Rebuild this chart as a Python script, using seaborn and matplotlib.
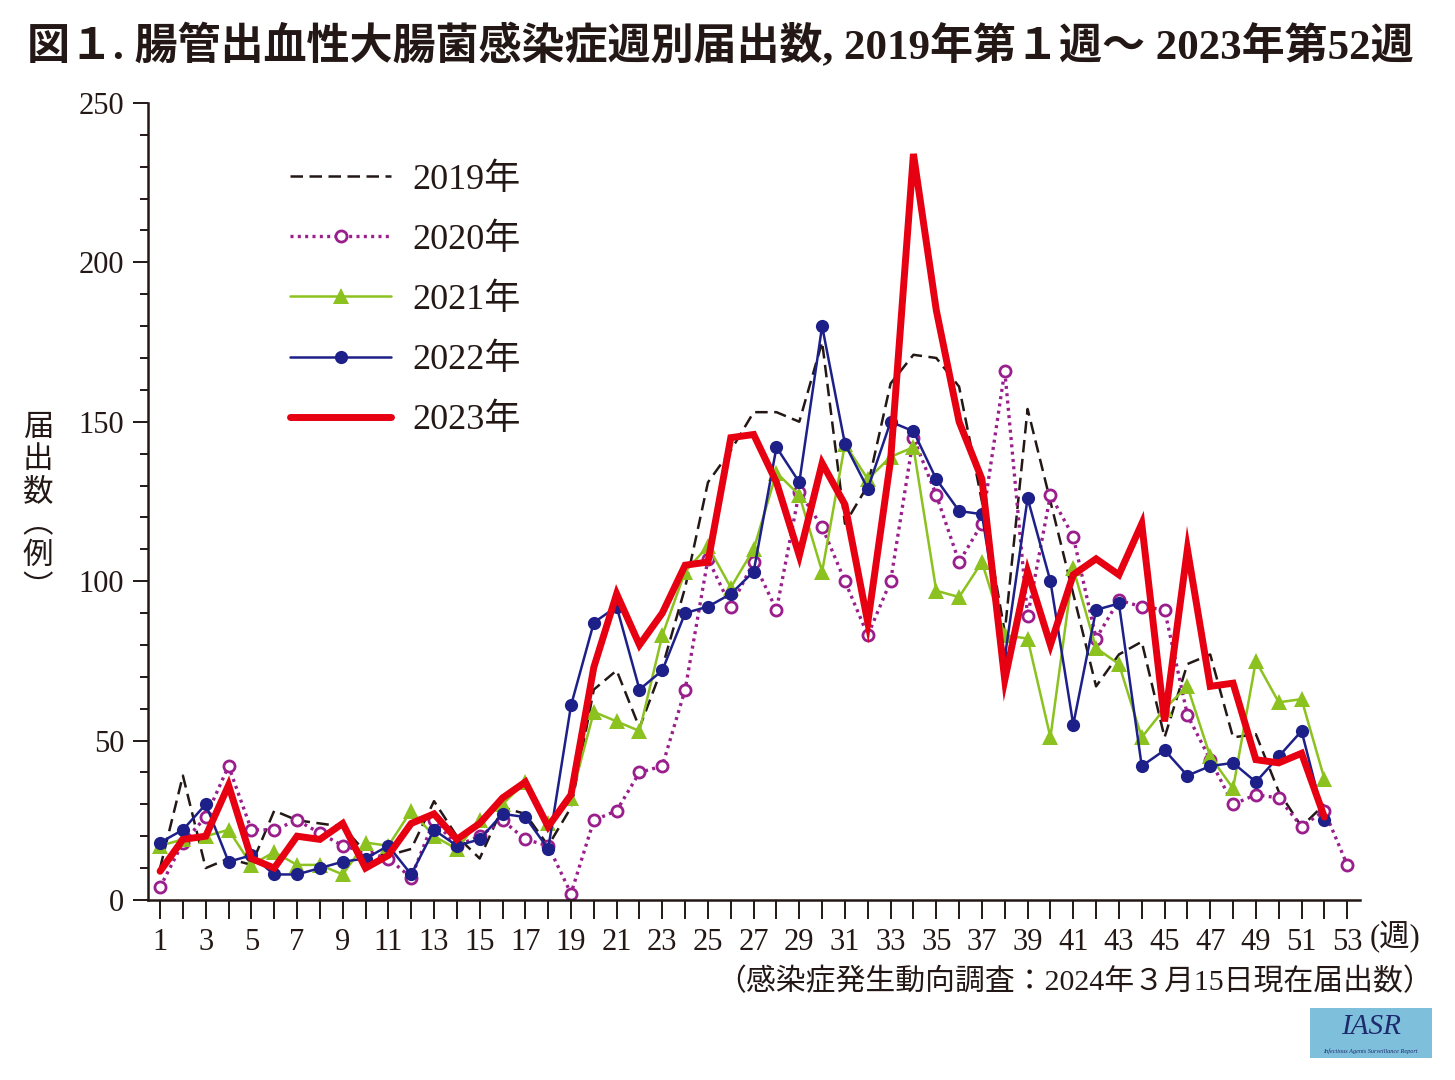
import matplotlib
matplotlib.use("Agg")
import matplotlib.pyplot as plt
import matplotlib.patches as mpatches
import seaborn as sns
from matplotlib.ticker import MultipleLocator

# weekly notified cases, EHEC
weeks_52 = list(range(1, 53))
weeks_53 = list(range(1, 54))

cases_2019 = [10, 39, 10, 13, 11, 28, 25, 24, 23, 15, 14, 16, 31, 20, 13, 29, 27, 17, 29, 66,
              72, 54, 73, 98, 131, 141, 153, 153, 150, 175, 118, 130, 162, 171, 170, 161, 125, 84, 154, 125,
              96, 67, 77, 81, 51, 74, 77, 51, 52, 34, 23, 30]
cases_2020 = [4, 18, 26, 42, 22, 22, 25, 21, 17, 15, 13, 7, 25, 17, 20, 25, 19, 17, 2, 25,
              28, 40, 42, 66, 107, 92, 106, 91, 128, 117, 100, 83, 100, 145, 127, 106, 118, 166, 89, 127,
              114, 82, 94, 92, 91, 58, 44, 30, 33, 32, 23, 28, 11]
cases_2021 = [17, 19, 20, 22, 11, 15, 11, 11, 8, 18, 17, 28, 20, 16, 25, 30, 37, 24, 32, 59,
              56, 53, 83, 103, 111, 98, 110, 134, 127, 103, 143, 132, 139, 142, 97, 95, 106, 83, 82, 51,
              104, 79, 74, 51, 60, 67, 45, 35, 75, 62, 63, 38]
cases_2022 = [18, 22, 30, 12, 14, 8, 8, 10, 12, 13, 17, 8, 22, 17, 19, 27, 26, 16, 61, 87,
              92, 66, 72, 90, 92, 96, 103, 142, 131, 180, 143, 129, 150, 147, 132, 122, 121, 76, 126, 100,
              55, 91, 93, 42, 47, 39, 42, 43, 37, 45, 53, 25]
cases_2023 = [9, 19, 20, 36, 13, 10, 20, 19, 24, 10, 14, 24, 27, 19, 24, 32, 37, 23, 33, 73,
              96, 80, 90, 105, 106, 145, 146, 131, 108, 137, 124, 87, 138, 234, 185, 150, 132, 69, 103, 80,
              102, 107, 102, 118, 56, 110, 67, 68, 44, 43, 46, 26]

year_labels = ["2019年", "2020年", "2021年", "2022年", "2023年"]
x_ticklabels = [str(w) if w % 2 == 1 else "" for w in weeks_53]

MIX = ["Liberation Serif", "Noto Sans CJK JP", "DejaVu Sans"]
INK = "#231815"

sns.set_style("ticks")
plt.rcParams["font.family"] = MIX

fig = plt.figure(figsize=(14.55, 10.8), dpi=100)
ax = fig.add_axes([0.1017, 0.1667, 0.833, 0.738])

sns.lineplot(x=weeks_52, y=cases_2019, ax=ax, color="#231815", lw=1.8,
             linestyle=(0, (5, 2.6)), label=year_labels[0])
sns.lineplot(x=weeks_53, y=cases_2020, ax=ax, color="#9a1e8c", lw=2.4,
             linestyle=(0, (0.9, 1.3)), marker="o", markersize=8,
             markerfacecolor="white", markeredgecolor="#9a1e8c", markeredgewidth=2.0,
             label=year_labels[1])
sns.lineplot(x=weeks_52, y=cases_2021, ax=ax, color="#8cc21f", lw=1.8,
             marker="^", markersize=11, markeredgewidth=0, label=year_labels[2])
sns.lineplot(x=weeks_52, y=cases_2022, ax=ax, color="#1d2088", lw=1.8,
             marker="o", markersize=9.5, markeredgewidth=0, label=year_labels[3])
sns.lineplot(x=weeks_52, y=cases_2023, ax=ax, color="#e60012", lw=5,
             solid_joinstyle="miter", label=year_labels[4])

ax.set_xlim(0.47, 53.56)
ax.set_ylim(0, 250)
ax.set_xticks(weeks_53)
ax.set_xticklabels(x_ticklabels)
ax.yaxis.set_major_locator(MultipleLocator(50))
ax.yaxis.set_minor_locator(MultipleLocator(10))
ax.tick_params(axis="x", direction="out", length=14, width=1.4, color=INK,
               labelsize=22, labelcolor=INK, pad=6)
ax.tick_params(axis="y", which="major", direction="out", length=11, width=1.4, color=INK,
               labelsize=22, labelcolor=INK, pad=6)
ax.tick_params(axis="y", which="minor", direction="out", length=6, width=1.4, color=INK)
for s in ["top", "right"]:
    ax.spines[s].set_visible(False)
for s in ["left", "bottom"]:
    ax.spines[s].set_color(INK)
    ax.spines[s].set_linewidth(1.8)
ax.set_xlabel("")
ax.set_ylabel("")

leg = ax.legend(loc="upper left", bbox_to_anchor=(290 / 1455, 0.849), bbox_transform=fig.transFigure,
                frameon=False, fontsize=26, handlelength=2.8, handletextpad=0.6,
                labelspacing=0.74, numpoints=1, borderpad=0, borderaxespad=0)
for t in leg.get_texts():
    t.set_color(INK)

# title, axis captions, source note
fig.text(0.495, 0.957, "図１. 腸管出血性大腸菌感染症週別届出数, 2019年第１週～ 2023年第52週",
         ha="center", va="center", fontsize=31, color=INK, family=MIX, weight="bold")
fig.text(0.026, 0.53, "届\n出\n数\n︵\n例\n︶", ha="center", va="center", fontsize=22,
         color=INK, family=["Noto Sans CJK JP"], linespacing=1.05)
fig.text(1370 / 1455, 0.132, "(週)", ha="left", va="center", fontsize=22, color=INK, family=MIX)
fig.text(0.985, 0.091, "（感染症発生動向調査：2024年３月15日現在届出数）", ha="right", va="center",
         fontsize=21.5, color=INK, family=MIX)

# IASR badge
fig.patches.append(mpatches.Rectangle((0.9003, 0.0204), 0.0838, 0.0463, transform=fig.transFigure,
                                      facecolor="#7ec0dc", edgecolor="none"))
fig.text(0.942, 0.049, "IASR", ha="center", va="center", fontsize=21, style="italic",
         color="#1d2a6e", family=["Liberation Serif"])
fig.text(0.942, 0.0265, "Infectious Agents Surveillance Report", ha="center", va="center",
         fontsize=4.5, style="italic", color="#1d2a6e", family=["Liberation Serif"])

fig.savefig("out.png", dpi=100)
